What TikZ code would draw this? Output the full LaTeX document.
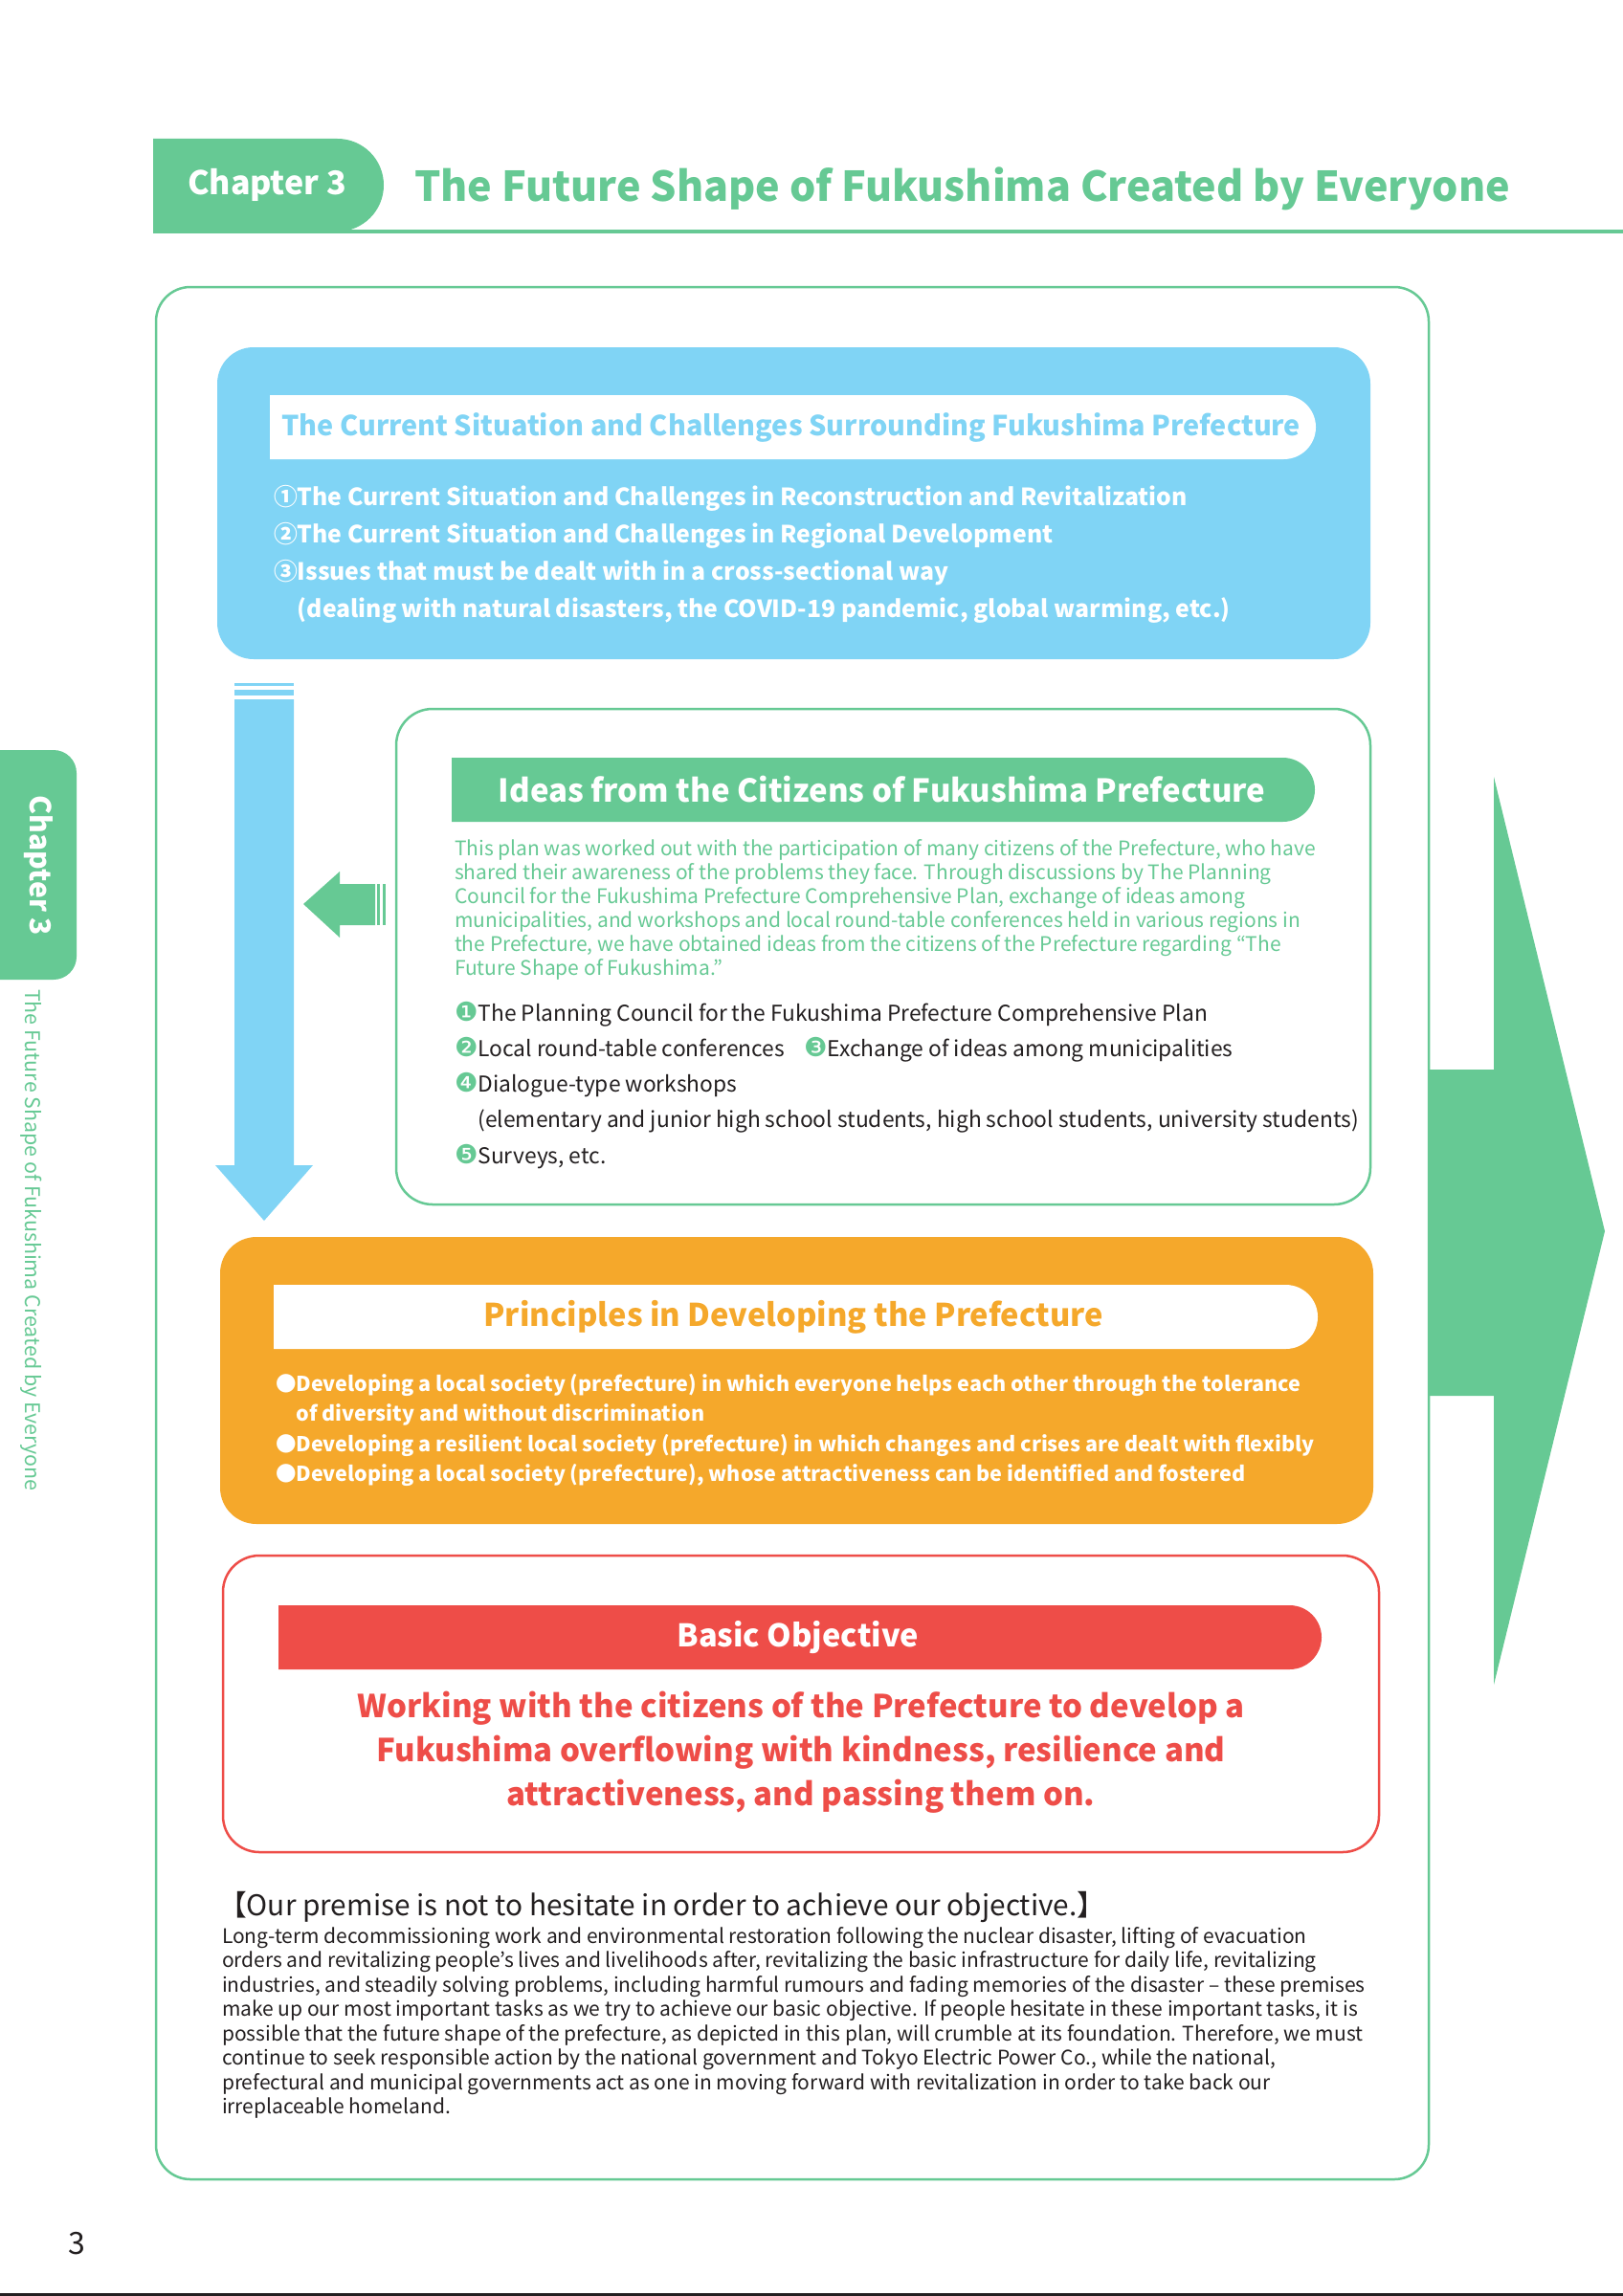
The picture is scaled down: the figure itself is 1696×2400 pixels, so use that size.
\documentclass[tikz,border=0pt]{standalone}
\usepackage{fontspec}
\setmainfont{Noto Sans CJK JP}
\newfontfamily\dingfont{DejaVu Sans}
\usepackage{xcolor}
\usepackage{graphicx}
\usetikzlibrary{positioning,shapes.misc}

\definecolor{fgreen}{HTML}{66C994}
\definecolor{fblue}{HTML}{80D4F5}
\definecolor{forange}{HTML}{F5A82B}
\definecolor{fred}{HTML}{EE4D48}
\definecolor{ftext}{HTML}{231F20}

\newcommand{\fsz}[2]{\fontsize{#1}{#2}\selectfont}
\newcommand{\numdot}[1]{{\color{fgreen}\dingfont\scalebox{1.2}{#1}}}

\begin{document}
\begin{tikzpicture}[
        x=1pt, y=-1pt,
        every node/.style={inner sep=0pt, outer sep=0pt},
        panel/.style={rounded corners=38pt, anchor=north west},
        pill/.style={rounded rectangle, rounded rectangle west arc=none, anchor=north west, minimum height=67pt},
        bodytext/.style={align=left, anchor=north west}
    ]
    \useasboundingbox (0,0) rectangle (1696,2400);

    % CHAPTER TITLE
    \node[pill, fill=fgreen, minimum width=241pt, minimum height=97pt, text=white,
        font=\fsz{34}{38}\bfseries] (tab) at (160,145) {Chapter 3};
    \draw[fgreen, line width=3.5pt] (tab.south west) -- ++(1536,0);
    \node[anchor=west, text=fgreen, font=\fsz{43}{52}\bfseries] (title) at (433,197)
        {The Future Shape of Fukushima Created by Everyone};

    % SIDE TAB
    \node[rounded corners=24pt, fill=fgreen, minimum width=120pt, minimum height=240pt,
        anchor=north east] (sidetab) at (80,784) {};
    \node[rotate=-90, text=white, font=\fsz{30}{34}\bfseries] (sidelabel) at (40,905) {Chapter 3};
    \node[rotate=-90, anchor=west, text=fgreen, font=\fsz{21.4}{26}] (sidetitle) at (33,1034)
        {The Future Shape of Fukushima Created by Everyone};

    % BIG ARROW TO THE RIGHT
    \fill[fgreen] (1492,1118) -- (1561,1118) -- (1561,812) -- (1677,1287)
        -- (1561,1761) -- (1561,1459) -- (1492,1459) -- cycle;

    % OUTER FRAME
    \node[panel, draw=fgreen, line width=2.5pt, fill=white, minimum width=1330pt,
        minimum height=1978pt, rounded corners=36pt] (frame) at (163,300) {};

    % CURRENT SITUATION
    \node[panel, fill=fblue, minimum width=1205pt, minimum height=326pt] (current) at (227,363) {};
    \node[pill, fill=white, minimum width=1093pt, text=fblue, font=\fsz{28.8}{34}\bfseries,
        below right=50pt and 55pt of current.north west] (currenthead)
        {The Current Situation and Challenges Surrounding Fukushima Prefecture};
    \node[bodytext, text=white, font=\fsz{24.8}{39}\bfseries,
        below right=144pt and 59pt of current.north west] (currentlist)
        {①The Current Situation and Challenges in Reconstruction and Revitalization\\
         ②The Current Situation and Challenges in Regional Development\\
         ③Issues that must be dealt with in a cross-sectional way\\
         \phantom{①}(dealing with natural disasters, the COVID-19 pandemic, global warming, etc.)};

    % FLOW DOWN
    \fill[fblue] (245,714) rectangle (307,717);
    \fill[fblue] (245,721) rectangle (307,727);
    \fill[fblue] (245,731) -- (307,731) -- (307,1218) -- (327,1218) -- (276,1276)
        -- (225,1218) -- (245,1218) -- cycle;

    % IDEAS FROM THE CITIZENS
    \node[panel, draw=fgreen, line width=2.5pt, minimum width=1018pt, minimum height=518pt] (ideas) at (414,741) {};
    \node[pill, fill=fgreen, minimum width=902pt, text=white, font=\fsz{33}{40}\bfseries,
        below right=51pt and 58pt of ideas.north west] (ideashead)
        {Ideas from the Citizens of Fukushima Prefecture};
    \node[bodytext, text=fgreen, font=\fsz{21}{25},
        below right=137pt and 61pt of ideas.north west] (ideastext)
        {This plan was worked out with the participation of many citizens of the Prefecture, who have\\
         shared their awareness of the problems they face. Through discussions by The Planning\\
         Council for the Fukushima Prefecture Comprehensive Plan, exchange of ideas among\\
         municipalities, and workshops and local round-table conferences held in various regions in\\
         the Prefecture, we have obtained ideas from the citizens of the Prefecture regarding “The\\
         Future Shape of Fukushima.”};
    \node[bodytext, text=ftext, font=\fsz{22.8}{37.2},
        below right=306pt and 61pt of ideas.north west] (ideaslist)
        {\numdot{❶}The Planning Council for the Fukushima Prefecture Comprehensive Plan\\
         \numdot{❷}Local round-table conferences\hspace{20pt}\numdot{❸}Exchange of ideas among municipalities\\
         \numdot{❹}Dialogue-type workshops\\
         \phantom{\numdot{❹}}(elementary and junior high school students, high school students, university students)\\
         \numdot{❺}Surveys, etc.};

    % IDEAS FEED INTO THE FLOW
    \fill[fgreen] (392,924) -- (355,924) -- (355,911) -- (317,945) -- (355,980)
        -- (355,967) -- (392,967) -- cycle;
    \fill[fgreen] (394,924) rectangle (397,967);
    \fill[fgreen] (400,924) rectangle (403,967);

    % PRINCIPLES
    \node[panel, fill=forange, minimum width=1205pt, minimum height=300pt] (principles) at (230,1293) {};
    \node[pill, fill=white, minimum width=1091pt, text=forange, font=\fsz{32.7}{40}\bfseries,
        below right=50pt and 56pt of principles.north west] (principleshead)
        {Principles in Developing the Prefecture};
    \node[bodytext, text=white, font=\fsz{21.5}{31.5}\bfseries,
        below right=143pt and 58pt of principles.north west] (principleslist)
        {●Developing a local society (prefecture) in which everyone helps each other through the tolerance\\
         \phantom{●}of diversity and without discrimination\\
         ●Developing a resilient local society (prefecture) in which changes and crises are dealt with flexibly\\
         ●Developing a local society (prefecture), whose attractiveness can be identified and fostered};

    % BASIC OBJECTIVE
    \node[panel, draw=fred, line width=2.5pt, fill=white, minimum width=1208pt, minimum height=310pt] (objective) at (233,1626) {};
    \node[pill, fill=fred, minimum width=1090pt, text=white, font=\fsz{32.6}{40}\bfseries,
        below right=52pt and 58pt of objective.north west] (objectivehead)
        {Basic Objective};
    \node[align=center, anchor=north, text=fred, font=\fsz{33}{46}\bfseries,
        below=142pt of objective.north] (objectivetext)
        {Working with the citizens of the Prefecture to develop a\\
         Fukushima overflowing with kindness, resilience and\\
         attractiveness, and passing them on.};

    % PREMISE
    \node[bodytext, text=ftext, font=\fsz{29.8}{36}] (premisehead) at (228,1977)
        {【Our premise is not to hesitate in order to achieve our objective.】};
    \node[bodytext, text=ftext, font=\fsz{21}{25.5}] (premisetext) at (232,2014)
        {Long-term decommissioning work and environmental restoration following the nuclear disaster, lifting of evacuation\\
         orders and revitalizing people’s lives and livelihoods after, revitalizing the basic infrastructure for daily life, revitalizing\\
         industries, and steadily solving problems, including harmful rumours and fading memories of the disaster – these premises\\
         make up our most important tasks as we try to achieve our basic objective. If people hesitate in these important tasks, it is\\
         possible that the future shape of the prefecture, as depicted in this plan, will crumble at its foundation. Therefore, we must\\
         continue to seek responsible action by the national government and Tokyo Electric Power Co., while the national,\\
         prefectural and municipal governments act as one in moving forward with revitalization in order to take back our\\
         irreplaceable homeland.};

    % PAGE FOOT
    \node[text=ftext, font=\fsz{32}{36}] (pagenum) at (80,2345) {3};
    \draw[ftext, line width=3pt] (0,2398.5) -- (1696,2398.5);

\end{tikzpicture}
\end{document}
